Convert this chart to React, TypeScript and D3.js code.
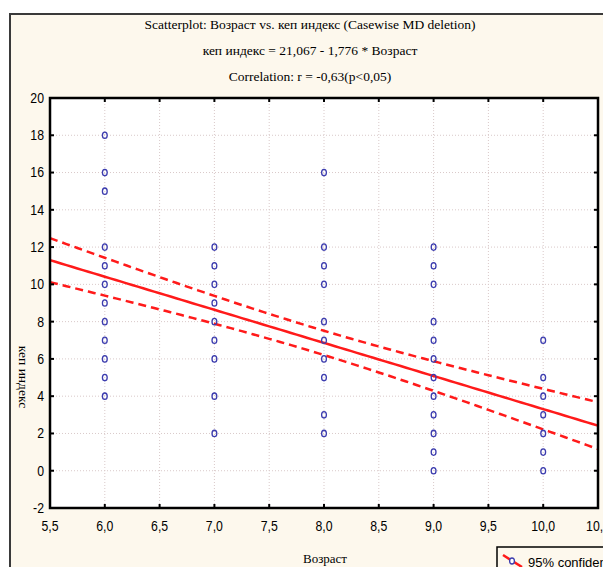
import React from "react";
import * as d3 from "d3";

const titleLines = [
  "Scatterplot: Возраст  vs. кеп индекс (Casewise MD deletion)",
  "кеп индекс = 21,067 - 1,776  * Возраст",
  "Correlation: r = -0,63(p<0,05)",
];
const xLabel = "Возраст";
const yLabel = "кеп индекс";
const legendLabel = "95% confidence";

const xTicks = [5.5, 6, 6.5, 7, 7.5, 8, 8.5, 9, 9.5, 10, 10.5];
const yTicks = [-2, 0, 2, 4, 6, 8, 10, 12, 14, 16, 18, 20];

// observed points: age groups and their index values
const age6 = [18, 16, 15, 12, 11, 10, 9, 8, 7, 6, 5, 4];
const age7 = [12, 11, 10, 9, 8, 7, 6, 4, 2];
const age8 = [16, 12, 11, 10, 8, 7, 6, 5, 3, 2];
const age9 = [12, 11, 10, 8, 7, 6, 5, 4, 3, 2, 1, 0];
const age10 = [7, 5, 4, 3, 2, 1, 0];
const groups: [number, number[]][] = [
  [6, age6],
  [7, age7],
  [8, age8],
  [9, age9],
  [10, age10],
];

// regression from the title and its 95% CI statistics
const regIntercept = 21.067;
const regSlope = -1.776;
const ciN = 107;
const ciMeanX = 7.89;
const ciSxx = 265;
const ciS = 3.39;
const ciT = 1.983;

export default function App() {
  const W = 603;
  const H = 567;
  const x = d3.scaleLinear().domain([5.5, 10.5]).range([50, 598]);
  const y = d3.scaleLinear().domain([-2, 20]).range([508, 98]);

  const xs = d3.range(5.5, 10.5001, 0.05);
  const fit = (v: number) => regIntercept + regSlope * v;
  const half = (v: number) =>
    ciT * ciS * Math.sqrt(1 / ciN + ((v - ciMeanX) * (v - ciMeanX)) / ciSxx);
  const fitPath = d3
    .line<number>()
    .x((d) => x(d))
    .y((d) => y(fit(d)))(xs)!;
  const upPath = d3
    .line<number>()
    .x((d) => x(d))
    .y((d) => y(fit(d) + half(d)))(xs)!;
  const loPath = d3
    .line<number>()
    .x((d) => x(d))
    .y((d) => y(fit(d) - half(d)))(xs)!;

  const red = "#ff1a1a";
  const blue = "#3c3cae";
  const bg = "#fdf8ed";
  const grid = "#d9c9c9";
  const tickFont = "'Liberation Sans', Arial, sans-serif";
  const serif = "'Liberation Serif', 'Times New Roman', serif";
  const squeeze = 0.82;

  return (
    <svg
      width={W}
      height={H}
      style={{ position: "absolute", left: 0, top: 0, display: "block" }}
    >
      <rect x={0} y={0} width={W} height={H} fill="#ffffff" />
      <rect x={10} y={14} width={W + 20} height={H + 20} fill={bg} stroke="#3a3a3a" strokeWidth={2} />

      {titleLines.map((t, i) => (
        <text
          key={i}
          x={310}
          y={24 + i * 26}
          textAnchor="middle"
          dominantBaseline="central"
          fontFamily={serif}
          fontSize={13.5}
          fill="#000"
        >
          {t}
        </text>
      ))}

      <rect x={x(5.5)} y={y(20)} width={x(10.5) - x(5.5)} height={y(-2) - y(20)} fill="#ffffff" />

      {xTicks.slice(1, -1).map((t) => (
        <line key={"gx" + t} x1={x(t)} x2={x(t)} y1={y(20)} y2={y(-2)} stroke={grid} strokeWidth={1} strokeDasharray="1,2" />
      ))}
      {yTicks.slice(1, -1).map((t) => (
        <line key={"gy" + t} x1={x(5.5)} x2={x(10.5)} y1={y(t)} y2={y(t)} stroke={grid} strokeWidth={1} strokeDasharray="1,2" />
      ))}

      <path d={upPath} fill="none" stroke={red} strokeWidth={2.5} strokeDasharray="8,5" />
      <path d={loPath} fill="none" stroke={red} strokeWidth={2.5} strokeDasharray="8,5" />
      <path d={fitPath} fill="none" stroke={red} strokeWidth={2.5} />

      {groups.map(([a, vals]) =>
        vals.map((v, i) => (
          <ellipse
            key={a + "-" + i}
            cx={x(a)}
            cy={y(v)}
            rx={2.4}
            ry={3.2}
            fill="none"
            stroke={blue}
            strokeWidth={1.3}
          />
        ))
      )}

      {xTicks.slice(1, -1).map((t) => (
        <g key={"tx" + t}>
          <line x1={x(t)} x2={x(t)} y1={y(20)} y2={y(20) + 4} stroke="#000" strokeWidth={2} />
          <line x1={x(t)} x2={x(t)} y1={y(-2)} y2={y(-2) - 4} stroke="#000" strokeWidth={2} />
        </g>
      ))}
      {yTicks.slice(1, -1).map((t) => (
        <g key={"ty" + t}>
          <line x1={x(5.5)} x2={x(5.5) + 4} y1={y(t)} y2={y(t)} stroke="#000" strokeWidth={2} />
          <line x1={x(10.5)} x2={x(10.5) - 4} y1={y(t)} y2={y(t)} stroke="#000" strokeWidth={2} />
        </g>
      ))}

      <rect
        x={x(5.5)}
        y={y(20)}
        width={x(10.5) - x(5.5)}
        height={y(-2) - y(20)}
        fill="none"
        stroke="#000"
        strokeWidth={2.5}
      />

      {xTicks.map((t) => (
        <text
          key={"lx" + t}
          transform={`translate(${x(t)},526) scale(${squeeze},1)`}
          textAnchor="middle"
          dominantBaseline="central"
          fontFamily={tickFont}
          fontSize={15}
          fill="#000"
        >
          {d3.format(".1f")(t).replace(".", ",")}
        </text>
      ))}
      {yTicks.map((t) => (
        <text
          key={"ly" + t}
          transform={`translate(44,${y(t)}) scale(${squeeze},1)`}
          textAnchor="end"
          dominantBaseline="central"
          fontFamily={tickFont}
          fontSize={15}
          fill="#000"
        >
          {t}
        </text>
      ))}

      <text
        x={325}
        y={558}
        textAnchor="middle"
        dominantBaseline="central"
        fontFamily={serif}
        fontSize={13}
        fill="#000"
      >
        {xLabel}
      </text>
      <text
        transform="translate(23,377) rotate(90)"
        textAnchor="middle"
        dominantBaseline="central"
        fontFamily={serif}
        fontSize={13.5}
        fill="#000"
      >
        {yLabel}
      </text>

      <rect x={497} y={547} width={140} height={40} fill={bg} stroke="#000" strokeWidth={1.5} />
      <line x1={503} y1={555} x2={522} y2={567} stroke={red} strokeWidth={2.5} />
      <ellipse cx={512} cy={561} rx={2.4} ry={3} fill="#fff" stroke={blue} strokeWidth={1.3} />
      <text
        x={528}
        y={562}
        dominantBaseline="central"
        fontFamily="'Liberation Sans', Arial, sans-serif"
        fontSize={13}
        fill="#000"
      >
        {legendLabel}
      </text>
    </svg>
  );
}
